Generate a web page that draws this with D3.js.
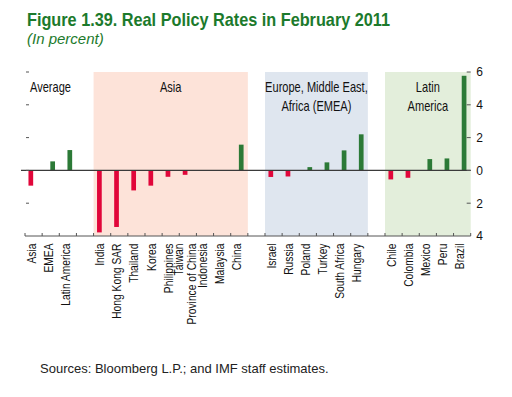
<!DOCTYPE html>
<html>
<head>
<meta charset="utf-8">
<script src="https://cdn.jsdelivr.net/npm/d3@7"></script>
<style>
  body { margin: 0; background: #fff; }
  svg { display: block; font-family: "Liberation Sans", Arial, sans-serif; }
</style>
</head>
<body>
<div id="chart"></div>
<script>
// data
const groupNames = ["Average", "Asia", "EMEA", "Latin America"];
const avgCats = ["Asia", "EMEA", "Latin America"];
const avgVals = [-0.93, 0.55, 1.24];
const asiaCats = ["India", "Hong Kong SAR", "Thailand", "Korea", "Philippines",
  "Taiwan|Province of China", "Indonesia", "Malaysia", "China"];
const asiaVals = [-3.78, -3.45, -1.22, -0.93, -0.39, -0.27, -0.02, -0.02, 1.57];
const emeaCats = ["Israel", "Russia", "Poland", "Turkey", "South Africa", "Hungary"];
const emeaVals = [-0.4, -0.37, 0.2, 0.49, 1.22, 2.2];
const latamCats = ["Chile", "Colombia", "Mexico", "Peru", "Brazil"];
const latamVals = [-0.55, -0.45, 0.69, 0.73, 5.77];
const yTicks = [-4, -2, 0, 2, 4, 6];

const groups = [
  { name: groupNames[0], cats: avgCats, vals: avgVals, fill: null, title: ["Average"] },
  { name: groupNames[1], cats: asiaCats, vals: asiaVals, fill: "#fde3d9", title: ["Asia"] },
  { name: groupNames[2], cats: emeaCats, vals: emeaVals, fill: "#dfe6ef", title: ["Europe, Middle East,", "Africa (EMEA)"] },
  { name: groupNames[3], cats: latamCats, vals: latamVals, fill: "#e3eedb", title: ["Latin", "America"] }
];

// slots: each group followed by one empty gap slot (except the last)
const slots = [];
const bars = [];
groups.forEach((g, gi) => {
  g.cats.forEach((c, i) => {
    const key = g.name + ":" + c;
    slots.push(key);
    bars.push({ key, label: c, value: g.vals[i], sign: g.vals[i] < 0 ? "neg" : "pos" });
  });
  if (gi < groups.length - 1) slots.push("gap" + gi);
});

const width = 512, height = 397;
const plotL = 25, plotR = 470.7, plotT = 72, plotB = 236;
const squeeze = 0.79; // condensed look

const svg = d3.select("#chart").append("svg")
  .attr("width", width)
  .attr("height", height);

const x = d3.scaleBand().domain(slots).range([plotL, plotR]).paddingInner(0).paddingOuter(0);
// negative and positive values sit side by side in each slot, like two series
const xs = d3.scaleBand().domain(["neg", "pos"]).range([-5.1, 4.3]);
const y = d3.scaleLinear().domain([-4, 6]).range([plotB, plotT]);

const green = "#2c7a37", red = "#e1063a", titleGreen = "#1c7a2c";

// title
svg.append("text")
  .attr("x", 27).attr("y", 26)
  .attr("fill", titleGreen)
  .style("font-size", "19px").style("font-weight", "bold")
  .attr("textLength", 363).attr("lengthAdjust", "spacingAndGlyphs")
  .text("Figure 1.39. Real Policy Rates in February 2011");
svg.append("text")
  .attr("x", 27).attr("y", 44)
  .attr("fill", titleGreen)
  .style("font-size", "15px").style("font-style", "italic")
  .text("(In percent)");

// shaded group regions
groups.forEach(g => {
  if (!g.fill) return;
  const x0 = x(g.name + ":" + g.cats[0]);
  const x1 = x(g.name + ":" + g.cats[g.cats.length - 1]) + x.bandwidth();
  svg.append("rect")
    .attr("x", x0).attr("y", plotT)
    .attr("width", x1 - x0).attr("height", plotB - plotT)
    .attr("fill", g.fill);
});

// group titles
groups.forEach(g => {
  const x0 = x(g.name + ":" + g.cats[0]);
  const x1 = x(g.name + ":" + g.cats[g.cats.length - 1]) + x.bandwidth();
  const tx = g.fill ? (x0 + x1) / 2 : 30;
  const t = svg.append("text")
    .attr("fill", "#111")
    .style("font-size", "14px")
    .attr("text-anchor", g.fill ? "middle" : "start")
    .attr("transform", `translate(${tx},91.5) scale(${squeeze},1)`);
  g.title.forEach((line, i) => {
    t.append("tspan").attr("x", 0).attr("y", i * 19.5).text(line);
  });
});

// bars
svg.append("g").selectAll("rect")
  .data(bars)
  .join("rect")
  .attr("x", d => x(d.key) + x.bandwidth() / 2 + xs(d.sign))
  .attr("width", xs.bandwidth())
  .attr("y", d => y(Math.max(0, d.value)))
  .attr("height", d => Math.abs(y(d.value) - y(0)))
  .attr("fill", d => d.value >= 0 ? green : red);

// zero line
svg.append("line")
  .attr("x1", 21).attr("x2", plotR)
  .attr("y1", y(0)).attr("y2", y(0))
  .attr("stroke", "#3a3a3a").attr("stroke-width", 1.3);

// bottom axis line with slot ticks
svg.append("line")
  .attr("x1", plotL).attr("x2", plotR)
  .attr("y1", plotB).attr("y2", plotB)
  .attr("stroke", "#555").attr("stroke-width", 1);
const boundaries = slots.map(s => x(s)).concat([plotR]);
svg.append("g").selectAll("line")
  .data(boundaries)
  .join("line")
  .attr("x1", d => d).attr("x2", d => d)
  .attr("y1", plotB - 3).attr("y2", plotB)
  .attr("stroke", "#555");

// left ticks (no labels)
svg.append("g").selectAll("line")
  .data(yTicks.filter(t => t !== -4))
  .join("line")
  .attr("x1", plotL + 1).attr("x2", plotL + 4)
  .attr("y1", d => y(d)).attr("y2", d => y(d))
  .attr("stroke", "#555");

// right axis
const yAxis = d3.axisRight(y).tickValues(yTicks)
  .tickSize(0)
  .tickPadding(5.5)
  .tickFormat(d => Math.abs(d));
const ga = svg.append("g").attr("transform", `translate(${plotR},0)`).call(yAxis);
ga.select(".domain").remove();
ga.selectAll("text").style("font-size", "12px").attr("fill", "#111").style("font-family", "inherit");
svg.append("g").selectAll("line")
  .data(yTicks.filter(t => t !== -4))
  .join("line")
  .attr("x1", plotR - 4).attr("x2", plotR)
  .attr("y1", d => y(d)).attr("y2", d => y(d))
  .attr("stroke", "#555");

// category labels
const lbl = svg.append("g").selectAll("text")
  .data(bars)
  .join("text")
  .attr("transform", d => `translate(${x(d.key) + x.bandwidth() / 2},243.5) rotate(-90) scale(${squeeze},1)`)
  .attr("text-anchor", "end")
  .attr("fill", "#111")
  .style("font-size", "13px");
lbl.each(function (d) {
  const lines = d.label.split("|");
  const t = d3.select(this);
  lines.forEach((line, i) => {
    const off = (i - (lines.length - 1) / 2) * 13;
    t.append("tspan").attr("x", 0).attr("y", off + 2).text(line);
  });
});

// source
svg.append("text")
  .attr("x", 40).attr("y", 373)
  .attr("fill", "#222")
  .style("font-size", "13px")
  .text("Sources: Bloomberg L.P.; and IMF staff estimates.");
</script>
</body>
</html>
